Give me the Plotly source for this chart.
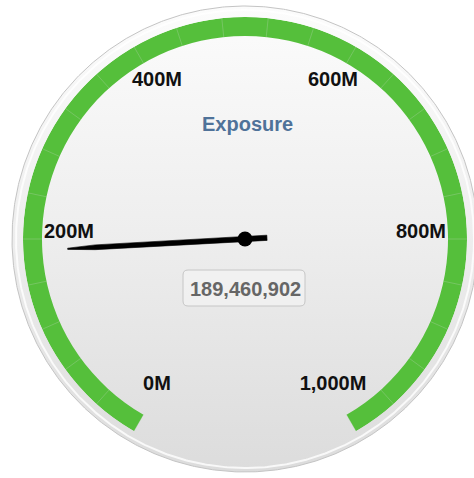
import numpy as np
import plotly.graph_objects as go

# ---------------- data ----------------
axis_min = 0
axis_max = 1_000_000_000
gauge_value = 189_460_902
value_label = "189,460,902"
title_text = "Exposure"
major_ticks = [0, 200e6, 400e6, 600e6, 800e6, 1000e6]
major_labels = ["0M", "200M", "400M", "600M", "800M", "1,000M"]
minor_tick_step = 40e6
band_from = 0
band_to = 1_000_000_000

# ---------------- geometry / style ----------------
W, H = 474, 478
CX, CY = 245, 239            # gauge centre (px, from top-left)
R_OUT, R_IN = 222, 203       # green band radii (px)
R_BG = 233                   # background disc radius (px)
R_LABEL = 176
LABEL_SHIFT = 6              # labels sit a little above their anchor
SWEEP = 300                  # degrees covered by the scale
GREEN = "#55BF3B"


def to_theta(v):
    return (v - axis_min) / (axis_max - axis_min) * SWEEP


def domain(shift_up=0):
    return dict(
        x=[(CX - R_OUT) / W, (CX + R_OUT) / W],
        y=[(H - CY - R_OUT + shift_up) / H, (H - CY + R_OUT + shift_up) / H],
    )


fig = go.Figure()

# background disc with vertical gradient (cartesian, 1 unit = 1 px)
t = np.linspace(0, 2 * np.pi, 721)
fig.add_trace(go.Scatter(
    x=CX + R_BG * np.cos(t), y=(H - CY) + R_BG * np.sin(t),
    mode="lines", fill="toself",
    line=dict(color="#c4c4c4", width=1),
    fillgradient=dict(type="vertical",
                      colorscale=[[0, "#dcdcdc"], [0.55, "#efefef"], [1, "#fcfcfc"]]),
    hoverinfo="skip", xaxis="x", yaxis="y",
))
fig.add_trace(go.Scatter(
    x=CX + (R_BG - 4) * np.cos(t), y=(H - CY) + (R_BG - 4) * np.sin(t),
    mode="lines", line=dict(color="rgba(255,255,255,0.8)", width=2),
    hoverinfo="skip", xaxis="x", yaxis="y",
))

# green plot band
mid = (to_theta(band_from) + to_theta(band_to)) / 2
fig.add_trace(go.Barpolar(
    r=[R_OUT - R_IN], base=[R_IN], theta=[mid],
    width=[to_theta(band_to) - to_theta(band_from)],
    marker=dict(color=GREEN, line=dict(width=0)),
    hoverinfo="skip", subplot="polar",
))

# minor tick lines across the band
tick_vals = np.arange(axis_min, axis_max + 1, minor_tick_step)
tr, tt = [], []
for v in tick_vals:
    tr += [R_IN, R_OUT, None]
    tt += [to_theta(v), to_theta(v), None]
fig.add_trace(go.Scatterpolar(
    r=tr, theta=tt, mode="lines",
    line=dict(color="rgba(200,215,200,0.28)", width=1),
    hoverinfo="skip", subplot="polar",
))

# needle (Highcharts-style dial)
dial = [(-22, -2.6), (150, -2.4), (177.6, -0.6), (177.6, 0.6),
        (150, 2.4), (-22, 2.6), (-22, -2.6)]
tv = to_theta(gauge_value)
fig.add_trace(go.Scatterpolar(
    r=[float(np.hypot(d, h)) for d, h in dial],
    theta=[tv + float(np.degrees(np.arctan2(h, d))) for d, h in dial],
    mode="lines", fill="toself", fillcolor="#000000",
    line=dict(color="#000000", width=0.6),
    hoverinfo="skip", subplot="polar",
))
# pivot
fig.add_trace(go.Scatterpolar(
    r=[0], theta=[0], mode="markers",
    marker=dict(color="#000000", size=15),
    hoverinfo="skip", subplot="polar",
))

# scale labels
fig.add_trace(go.Scatterpolar(
    r=[R_LABEL] * len(major_ticks), theta=[to_theta(v) for v in major_ticks],
    mode="text", text=major_labels, textposition="middle center",
    textfont=dict(family="Liberation Sans, Arial, sans-serif", size=20,
                  color="#111111", weight="bold"),
    hoverinfo="skip", subplot="polar2",
))

polar_common = dict(
    bgcolor="rgba(0,0,0,0)",
    radialaxis=dict(visible=False, range=[0, R_OUT]),
    angularaxis=dict(visible=False, rotation=240, direction="clockwise"),
)

# data label box (rounded)
bx0, bx1 = 183, 305
by0, by1 = H - 306, H - 270
rr = 5
box_path = (f"M {bx0+rr},{by0} L {bx1-rr},{by0} Q {bx1},{by0} {bx1},{by0+rr} "
            f"L {bx1},{by1-rr} Q {bx1},{by1} {bx1-rr},{by1} "
            f"L {bx0+rr},{by1} Q {bx0},{by1} {bx0},{by1-rr} "
            f"L {bx0},{by0+rr} Q {bx0},{by0} {bx0+rr},{by0} Z")

fig.update_layout(
    width=W, height=H,
    margin=dict(l=0, r=0, t=0, b=0),
    paper_bgcolor="white", plot_bgcolor="white",
    showlegend=False,
    xaxis=dict(domain=[0, 1], range=[0, W], visible=False, fixedrange=True),
    yaxis=dict(domain=[0, 1], range=[0, H], visible=False, fixedrange=True),
    polar=dict(domain=domain(0), **polar_common),
    polar2=dict(domain=domain(LABEL_SHIFT), **polar_common),
    shapes=[dict(type="path", path=box_path, xref="x", yref="y",
                 line=dict(color="#c6c6c6", width=1),
                 fillcolor="rgba(248,248,248,0.5)")],
    annotations=[
        dict(x=CX + 2, y=H - 124, xref="x", yref="y", text=title_text,
             showarrow=False, xanchor="center", yanchor="middle",
             font=dict(family="Liberation Sans, Arial, sans-serif", size=20,
                       color="#4f7299", weight="bold")),
        dict(x=CX, y=H - 289, xref="x", yref="y", text=value_label,
             showarrow=False, xanchor="center", yanchor="middle",
             font=dict(family="Liberation Sans, Arial, sans-serif", size=20,
                       color="#666666", weight="bold")),
    ],
)

fig.write_html("out.html")
